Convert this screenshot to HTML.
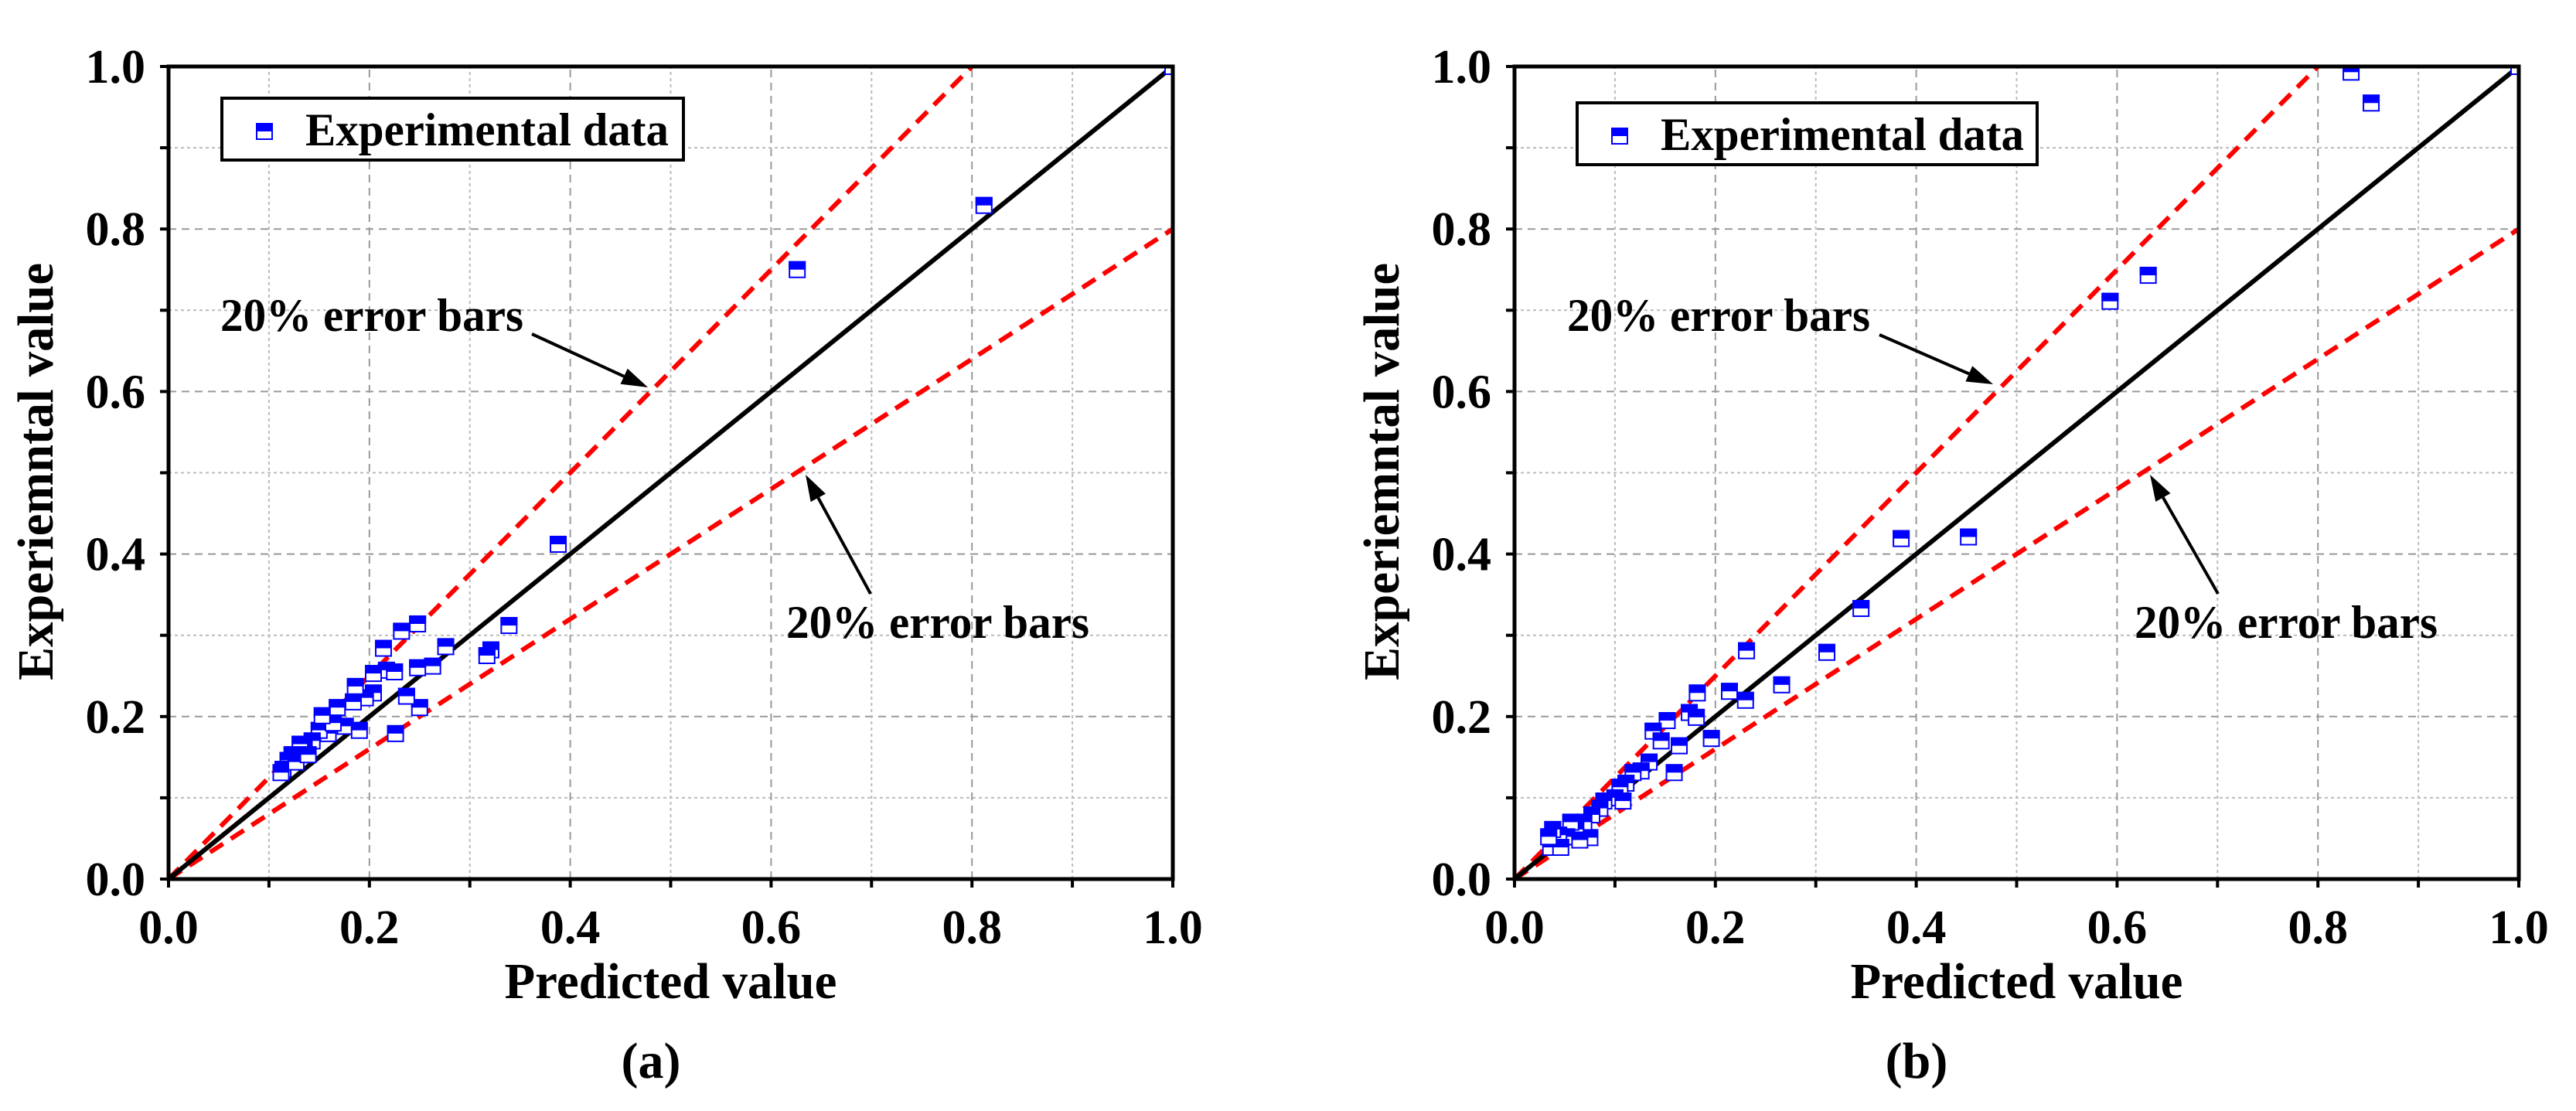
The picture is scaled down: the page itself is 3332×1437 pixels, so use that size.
<!DOCTYPE html>
<html><head><meta charset="utf-8"><style>
html,body{margin:0;padding:0;background:#fff;}
svg{display:block;}
svg text{font-family:'Liberation Serif','DejaVu Serif',serif !important;font-weight:bold;fill:#000;}
</style></head><body>
<svg id="fig" width="3332" height="1437" viewBox="0 0 3332 1437" xmlns="http://www.w3.org/2000/svg" font-family="Liberation Serif, DejaVu Serif, serif">
<defs>
<clipPath id="clipA"><rect x="218" y="86" width="1299" height="1051"/></clipPath>
<clipPath id="clipB"><rect x="1959" y="86" width="1299" height="1051"/></clipPath>
</defs>
</svg>
<script>
const ticks = [0, 0.2, 0.4, 0.6, 0.8, 1.0];
const tickLabels = ["0.0","0.2","0.4","0.6","0.8","1.0"];
const predictedA = [0.812,0.626,0.388,0.339,0.321,0.317,0.276,0.263,0.248,0.250,0.237,0.232,0.248,0.226,0.214,0.217,0.225,0.204,0.204,0.196,0.186,0.184,0.168,0.176,0.190,0.159,0.150,0.143,0.135,0.131,0.123,0.119,0.114,0.112,0.127,0.139,0.164,0.153,1.0];
const experimentalA = [0.829,0.750,0.412,0.312,0.282,0.275,0.286,0.262,0.260,0.211,0.225,0.305,0.314,0.179,0.284,0.257,0.255,0.253,0.229,0.223,0.237,0.218,0.211,0.188,0.183,0.179,0.183,0.170,0.161,0.166,0.153,0.146,0.135,0.131,0.144,0.153,0.192,0.201,1.0];
const predictedB = [0.833,0.853,0.631,0.593,0.452,0.385,0.345,0.311,0.266,0.231,0.230,0.214,0.196,0.182,0.174,0.181,0.164,0.159,0.152,0.138,0.146,0.134,0.126,0.118,0.111,0.105,0.100,0.089,0.085,0.077,0.075,0.069,0.061,0.056,0.052,0.044,0.038,0.036,0.046,0.034,0.108,0.065,1.0];
const experimentalB = [0.993,0.955,0.743,0.711,0.421,0.419,0.333,0.279,0.239,0.281,0.220,0.231,0.173,0.229,0.205,0.199,0.164,0.131,0.195,0.182,0.170,0.144,0.133,0.131,0.118,0.113,0.100,0.096,0.087,0.079,0.051,0.070,0.061,0.070,0.052,0.054,0.061,0.039,0.039,0.052,0.096,0.048,1.0];

const NS = "http://www.w3.org/2000/svg";
const svg = document.getElementById('fig');
const FONT = "'Liberation Serif', 'DejaVu Serif', serif";
function mk(tag, attrs, parent){
  const e = document.createElementNS(NS, tag);
  for (const k in attrs) e.setAttribute(k, attrs[k]);
  if (tag === 'text') { e.setAttribute('font-family', FONT); if (!attrs['font-weight']) e.setAttribute('font-weight', 'bold'); }
  (parent||svg).appendChild(e);
  return e;
}

const panels = [
  {id:'a', x0:218, clip:'clipA', px:predictedA, py:experimentalA,
   legend:{x:287,y:127,w:597,h:80}, up:{tx:285,ty:428,ax1:688,ay1:432,ax2:838,ay2:501},
   lo:{tx:1017,ty:825,ax1:1126,ay1:768,ax2:1042,ay2:614}, label:'a', lx:842},
  {id:'b', x0:1959, clip:'clipB', px:predictedB, py:experimentalB,
   legend:{x:2040,y:133,w:595,h:80}, up:{tx:2027,ty:428,ax1:2431,ay1:433,ax2:2578,ay2:497},
   lo:{tx:2761,ty:825,ax1:2869,ay1:768,ax2:2781,ay2:614}, label:'b', lx:2479}
];
const W = 1299, Y0 = 1137, H = 1051;

panels.forEach(p => {
  const g = mk('g', {});
  
  
  const sx = v => p.x0 + v * W;
  const sy = v => Y0 - v * H;

  for (let i = 1; i < 10; i++) {
    const v = i / 10, major = i % 2 === 0;
    const st = major ? {stroke:'#999', 'stroke-width':2, 'stroke-dasharray':'10 7'} : {stroke:'#bbb', 'stroke-width':2, 'stroke-dasharray':'4 4'};
    const gv = mk('line', Object.assign({x1:sx(v), x2:sx(v), y1:sy(0), y2:sy(1)}, st), g);
    
    
    const gh = mk('line', Object.assign({x1:sx(0), x2:sx(1), y1:sy(v), y2:sy(v)}, st), g);
    
    
  }
  for (let i = 0; i <= 10; i++) {
    const v = i / 10;
    const tx = mk('line', {x1:sx(v), x2:sx(v), y1:Y0, y2:Y0+11, stroke:'#000', 'stroke-width':4}, g);
    
    
    const ty = mk('line', {x1:p.x0-11, x2:p.x0, y1:sy(v), y2:sy(v), stroke:'#000', 'stroke-width':4}, g);
    
    
  }
  ticks.forEach((v, i) => {
    const t1 = mk('text', {x:sx(v), y:1220, 'font-size':62, 'text-anchor':'middle'}, g);
    t1.textContent = tickLabels[i];
    
    
    const t2 = mk('text', {x:p.x0-30, y:sy(v)+21, 'font-size':62, 'text-anchor':'end'}, g);
    t2.textContent = tickLabels[i];
    
    
  });

  const lines = mk('g', {'clip-path':'url(#' + p.clip + ')'}, g);
  const up = mk('line', {x1:sx(0), y1:sy(0), x2:sx(1/1.25), y2:sy(1), stroke:'#f00', 'stroke-width':6, 'stroke-dasharray':'20 12'}, lines);
  
  
  const lo = mk('line', {x1:sx(0), y1:sy(0), x2:sx(1), y2:sy(0.8), stroke:'#f00', 'stroke-width':6, 'stroke-dasharray':'20 12'}, lines);
  
  
  const id = mk('line', {x1:sx(0), y1:sy(0), x2:sx(1), y2:sy(1), stroke:'#000', 'stroke-width':6}, lines);
  
  

  const pts = mk('g', {'clip-path':'url(#' + p.clip + ')'}, g);
  p.px.forEach((xv, i) => {
    const cx = sx(xv), cy = sy(p.py[i]), s = 22;
    const r = mk('rect', {x:cx-s/2+1, y:cy-s/2+1, width:s-2, height:s-2, fill:'#fff', stroke:'#00f', 'stroke-width':2}, pts);
    
    
    const f = mk('rect', {x:cx-s/2, y:cy-s/2, width:s, height:s/2, fill:'#00f'}, pts);
    
    
  });

  const fr = mk('rect', {x:p.x0, y:sy(1), width:W, height:H, fill:'none', stroke:'#000', 'stroke-width':5}, g);
  
  

  const L = p.legend;
  const lg = mk('g', {}, g);
  
  
  mk('rect', {x:L.x, y:L.y, width:L.w, height:L.h, fill:'#fff', stroke:'#000', 'stroke-width':4}, lg);
  mk('rect', {x:L.x+45, y:L.y+33, width:20, height:20, fill:'#fff', stroke:'#00f', 'stroke-width':2}, lg);
  mk('rect', {x:L.x+44, y:L.y+32, width:22, height:11, fill:'#00f'}, lg);
  const lt = mk('text', {x:L.x+108, y:L.y+61, 'font-size':60, textLength:470, lengthAdjust:'spacingAndGlyphs'}, lg);
  lt.textContent = 'Experimental data';
  
  

  [p.up, p.lo].forEach(a => {
    const t = mk('text', {x:a.tx, y:a.ty, 'font-size':60, textLength:392, lengthAdjust:'spacingAndGlyphs'}, g);
    t.textContent = '20% error bars';
    
    
    const dx = a.ax2 - a.ax1, dy = a.ay2 - a.ay1, len = Math.hypot(dx, dy), ux = dx/len, uy = dy/len;
    const bx = a.ax2 - ux*34, by = a.ay2 - uy*34;
    const ln = mk('line', {x1:a.ax1, y1:a.ay1, x2:bx, y2:by, stroke:'#000', 'stroke-width':4}, g);
    
    
    const hd = mk('polygon', {points:`${a.ax2},${a.ay2} ${bx - uy*11},${by + ux*11} ${bx + uy*11},${by - ux*11}`, fill:'#000'}, g);
    
    
  });

  const xt = mk('text', {x:p.x0 + W/2, y:1291, 'font-size':66, 'text-anchor':'middle', textLength:430, lengthAdjust:'spacingAndGlyphs'}, g);
  xt.textContent = 'Predicted value';
  
  
  const ycx = p.x0 - 150, ycy = 610;
  const yt = mk('text', {x:ycx, y:ycy, 'font-size':66, 'text-anchor':'middle', textLength:540, lengthAdjust:'spacingAndGlyphs', transform:`rotate(-90 ${ycx} ${ycy})`}, g);
  yt.textContent = 'Experiemntal value';
  
  
  const pl = mk('text', {x:p.lx, y:1394, 'font-size':66, 'text-anchor':'middle', 'font-weight':'normal'}, g);
  
  
  pl.appendChild(document.createTextNode('('));
  const ts = document.createElementNS(NS, 'tspan');
  ts.setAttribute('font-weight', 'bold');
  ts.textContent = p.label;
  pl.appendChild(ts);
  pl.appendChild(document.createTextNode(')'));
});
</script>
</body></html>
